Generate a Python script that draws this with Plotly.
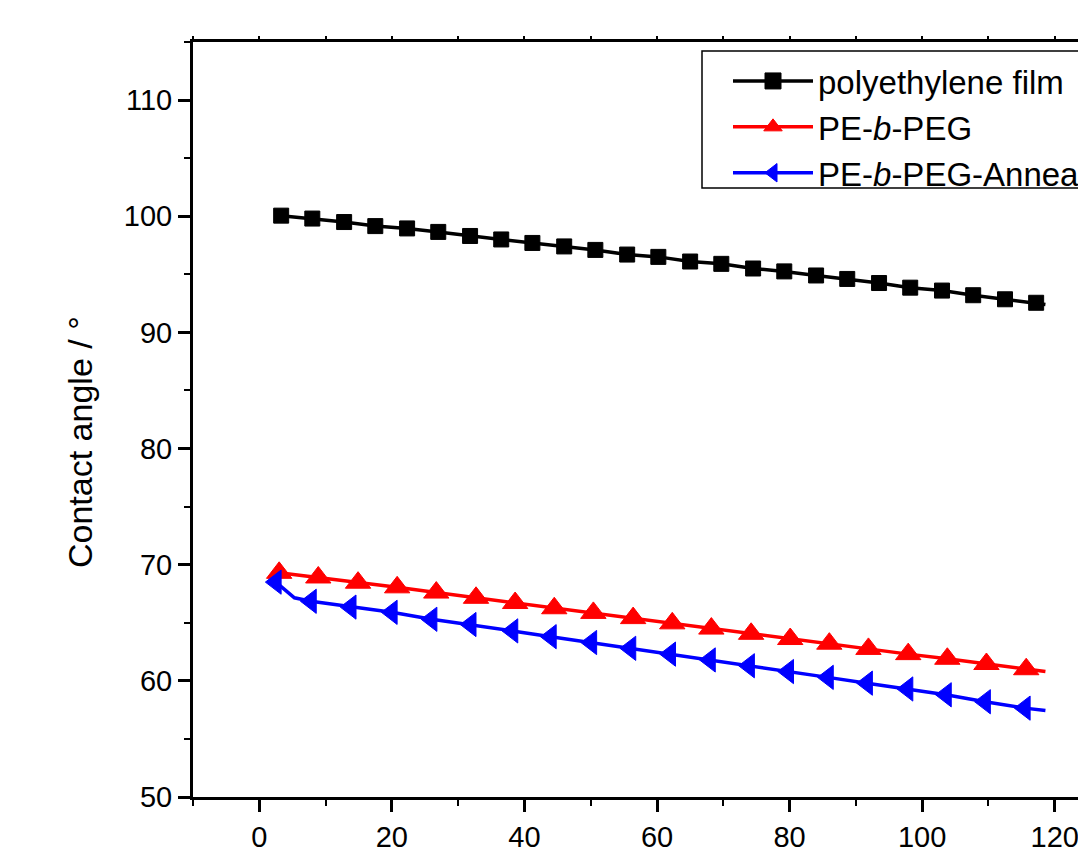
import plotly.graph_objects as go

# Contact angle vs drop age for three surfaces
pe_t = [3.3, 8.0, 12.8, 17.5, 22.3, 27.0, 31.8, 36.5, 41.2, 46.0, 50.7, 55.5, 60.2,
        65.0, 69.7, 74.5, 79.2, 84.0, 88.7, 93.5, 98.2, 103.0, 107.7, 112.5, 117.2]
pe_angle = [100.05, 99.8, 99.5, 99.15, 98.95, 98.65, 98.3, 98.0, 97.7, 97.4, 97.1, 96.7, 96.5,
            96.1, 95.9, 95.5, 95.25, 94.9, 94.6, 94.25, 93.85, 93.6, 93.2, 92.85, 92.55]
pe_tail = (118.6, 92.4)

peg_t = [3.0, 8.9, 14.9, 20.8, 26.7, 32.7, 38.6, 44.5, 50.4, 56.4,
         62.3, 68.2, 74.2, 80.1, 86.0, 91.9, 97.9, 103.8, 109.7, 115.7]
peg_angle = [69.3, 68.9, 68.45, 68.05, 67.6, 67.15, 66.7, 66.25, 65.85, 65.4,
             64.95, 64.5, 64.05, 63.6, 63.2, 62.75, 62.3, 61.9, 61.45, 61.0]
peg_tail = (118.6, 60.8)

ann_t = [2.5, 7.8, 13.8, 20.0, 26.0, 31.9, 38.2, 44.0, 50.1, 56.0,
         62.0, 68.0, 73.9, 79.8, 85.8, 91.7, 97.8, 103.6, 109.5, 115.5]
ann_angle = [68.5, 66.85, 66.35, 65.9, 65.3, 64.85, 64.3, 63.8, 63.3, 62.8,
             62.3, 61.8, 61.3, 60.8, 60.3, 59.8, 59.3, 58.8, 58.2, 57.65]
ann_extra = [(5.3, 67.15), (118.6, 57.45)]

names = ["polyethylene film", "PE-<i>b</i>-PEG", "PE-<i>b</i>-PEG-Annealed"]
colors = ["#000000", "#FF0000", "#0000FF"]
symbols = ["square", "triangle-up", "triangle-left"]
sizes = [15, 22, 21]
legend_sizes = [16, 16, 16]

FONT = "Liberation Sans, Arial, sans-serif"
LW = 3.5


def line_points(t, a, extra):
    pts = sorted(list(zip(t, a)) + list(extra))
    return [p[0] for p in pts], [p[1] for p in pts]


series = [
    (pe_t, pe_angle, [pe_tail]),
    (peg_t, peg_angle, [peg_tail]),
    (ann_t, ann_angle, ann_extra),
]

fig = go.Figure()
for (t, a, extra), name, col, sym, sz, lsz in zip(series, names, colors, symbols, sizes, legend_sizes):
    lx, ly = line_points(t, a, extra)
    fig.add_trace(go.Scatter(x=lx, y=ly, mode="lines", line=dict(color=col, width=LW),
                             showlegend=False, hoverinfo="skip"))
    fig.add_trace(go.Scatter(x=t, y=a, mode="markers", showlegend=False,
                             marker=dict(symbol=sym, size=sz, color=col,
                                         line=dict(color=col, width=1))))
    # legend entry (line with marker)
    fig.add_trace(go.Scatter(x=[None], y=[None], mode="lines+markers", name=name,
                             line=dict(color=col, width=LW),
                             marker=dict(symbol=sym, size=lsz, color=col,
                                         line=dict(color=col, width=1))))

# the page is wider than the visible window so the legend never forces a margin change
W, H = 1320, 900
ml, mt, mb = 193, 42, 103
mr = W - 1121
PW, PH = W - ml - mr, H - mt - mb


def px_x(p):
    return (p - ml) / PW


def px_y(p):
    return 1 - (p - mt) / PH


axis_common = dict(
    showgrid=False, zeroline=False, showline=True, linecolor="black", linewidth=3,
    ticks="outside", ticklen=12, tickwidth=3, tickcolor="black",
    tickfont=dict(family=FONT, size=29, color="black"),
)

fig.update_layout(
    width=W, height=H,
    margin=dict(l=ml, r=mr, t=mt, b=mb),
    paper_bgcolor="white", plot_bgcolor="white",
    font=dict(family=FONT, color="black"),
    xaxis=dict(range=[-10, 130], tick0=0, dtick=20, mirror=True,
               minor=dict(dtick=10, ticklen=6, tickwidth=2, ticks="outside", tickcolor="black"),
               title=dict(text="Drop age / s", font=dict(family=FONT, size=34), standoff=10),
               **axis_common),
    xaxis2=dict(range=[-10, 130], overlaying="x", side="top", tick0=0, dtick=10,
                showticklabels=False, showgrid=False, zeroline=False, showline=True,
                linecolor="black", linewidth=3, ticks="outside", ticklen=3, tickwidth=2,
                tickcolor="black"),
    yaxis=dict(range=[50, 115], tick0=50, dtick=10, mirror=True,
               minor=dict(dtick=5, ticklen=6, tickwidth=2, ticks="outside", tickcolor="black"),
               **axis_common),
    legend=dict(x=px_x(728), y=px_y(53),
                xanchor="left", yanchor="top", bgcolor="rgba(0,0,0,0)",
                borderwidth=0,
                font=dict(family=FONT, size=33, color="black"),
                itemwidth=80, tracegroupgap=0),
    shapes=[dict(type="rect", xref="paper", yref="paper",
                 x0=px_x(702), x1=px_x(1300), y0=px_y(188), y1=px_y(51),
                 line=dict(color="black", width=1.5), fillcolor="white", layer="above")],
    annotations=[dict(text="Contact angle / °", textangle=-90, showarrow=False,
                      xref="paper", yref="paper",
                      x=px_x(80), y=px_y(442),
                      xanchor="center", yanchor="middle",
                      font=dict(family=FONT, size=34, color="black"))],
)

# dummy trace so the top axis is drawn
fig.add_trace(go.Scatter(x=[None], y=[None], xaxis="x2", showlegend=False, hoverinfo="skip"))

fig.write_html("out.html")
